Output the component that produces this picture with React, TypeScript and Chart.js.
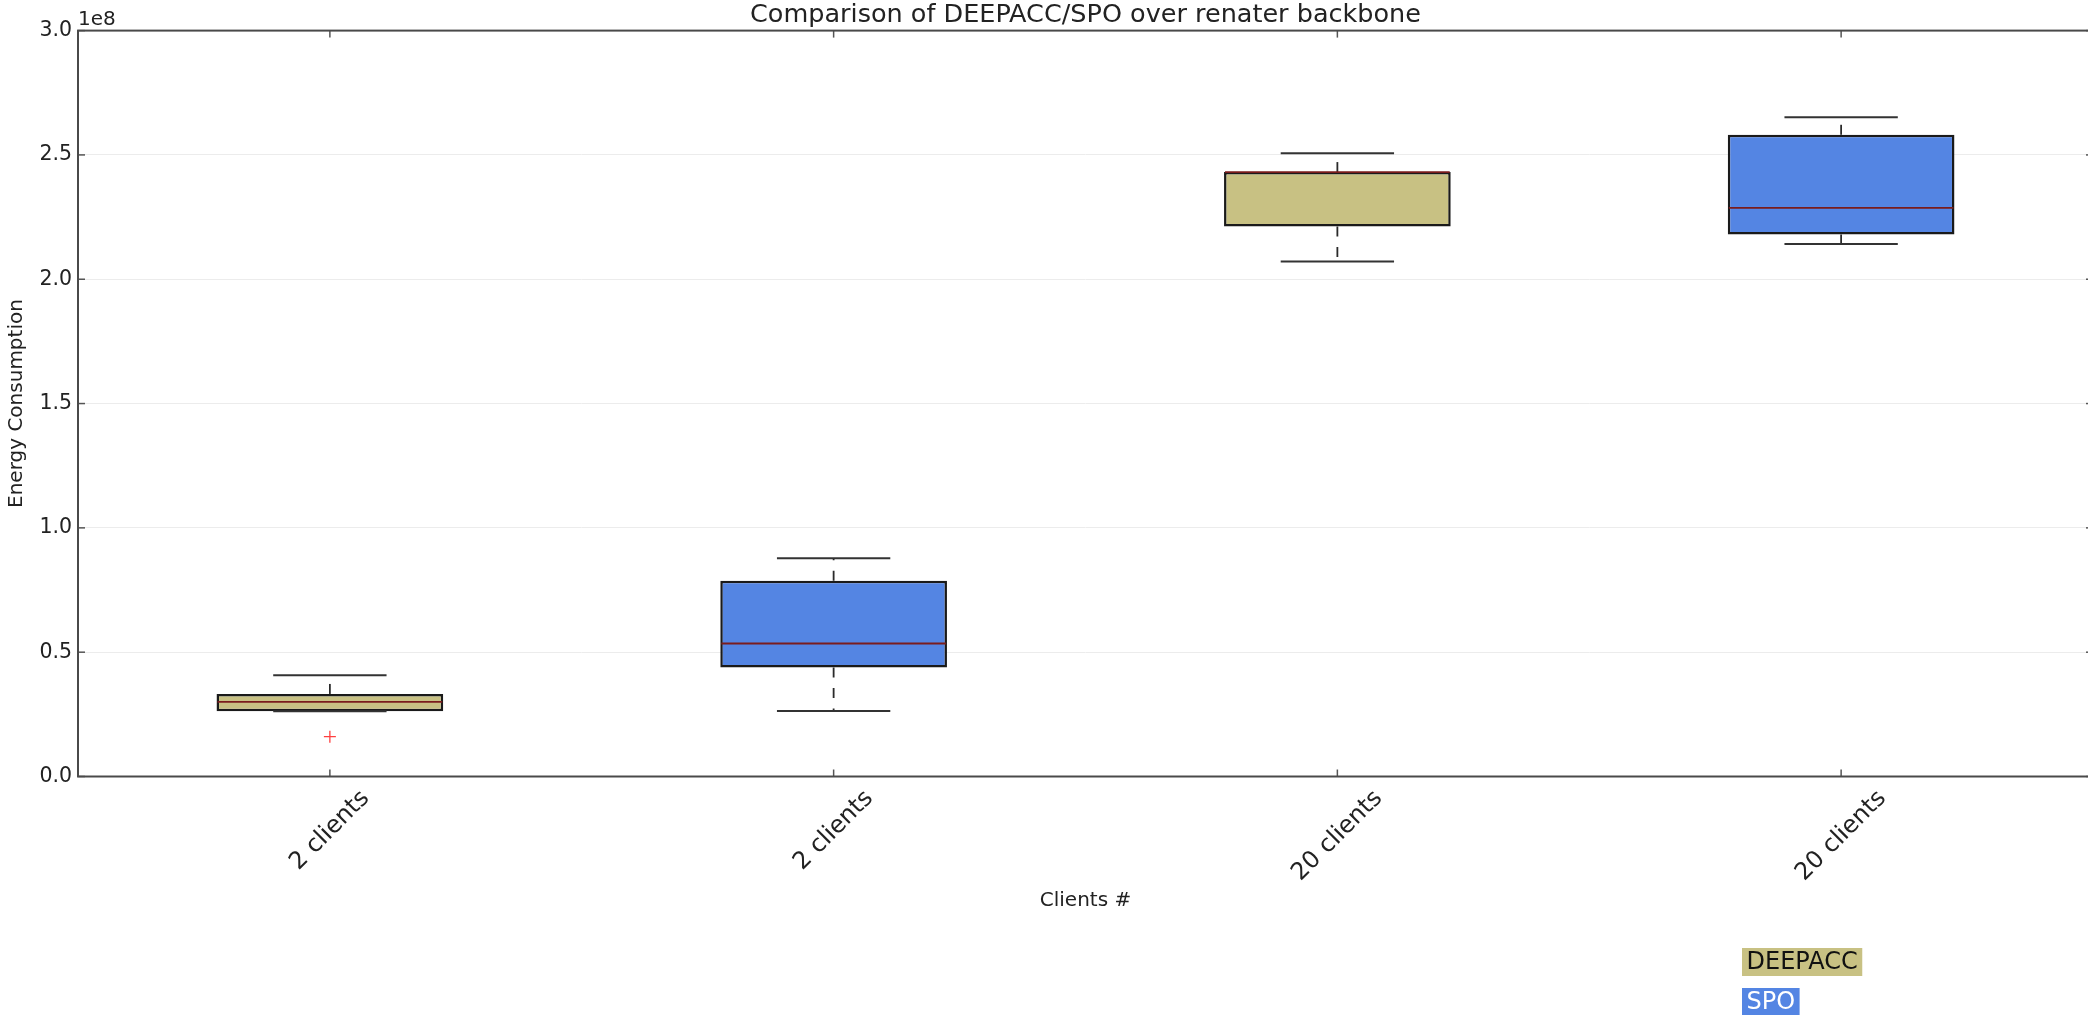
import React, { useEffect, useRef } from 'react';
import { Chart, registerables } from 'chart.js';

Chart.register(...registerables);

const CANVAS_W = 2110;
const CANVAS_H = 1015;
const PLOT_LEFT = 78;
const PLOT_RIGHT = 2093;
const PLOT_TOP = 30.5;
const PLOT_BOTTOM = 776.5;
const FONT = "'DejaVu Sans', 'Liberation Sans', sans-serif";
const INK = '#222222';

const chartTitle = 'Comparison of DEEPACC/SPO over renater backbone';
const xAxisTitle = 'Clients #';
const yAxisTitle = 'Energy Consumption';
const yOffsetText = '1e8';

const categories = ['2 clients', '2 clients', '20 clients', '20 clients'];
const yTickStep = 0.5e8;
const yMax = 3e8;

// DEEPACC boxes occupy category slots 0 and 2
const deepaccSlots = [0, 2];
const deepaccLowerWhisker = [0.262e8, 2.071e8];
const deepaccQ1 = [0.262e8, 2.212e8];
const deepaccMedian = [0.3e8, 2.431e8];
const deepaccQ3 = [0.332e8, 2.431e8];
const deepaccUpperWhisker = [0.407e8, 2.507e8];
const deepaccOutliers = [[0.16e8], []];

// SPO boxes occupy category slots 1 and 3
const spoSlots = [1, 3];
const spoLowerWhisker = [0.263e8, 2.142e8];
const spoQ1 = [0.438e8, 2.18e8];
const spoMedian = [0.535e8, 2.287e8];
const spoQ3 = [0.787e8, 2.581e8];
const spoUpperWhisker = [0.878e8, 2.651e8];
const spoOutliers = [[], []];

const series = [
  {
    name: 'DEEPACC',
    fill: '#c8c183',
    legendText: '#111111',
    slots: deepaccSlots,
    lower: deepaccLowerWhisker,
    q1: deepaccQ1,
    median: deepaccMedian,
    q3: deepaccQ3,
    upper: deepaccUpperWhisker,
    outliers: deepaccOutliers,
  },
  {
    name: 'SPO',
    fill: '#5485e3',
    legendText: '#ffffff',
    slots: spoSlots,
    lower: spoLowerWhisker,
    q1: spoQ1,
    median: spoMedian,
    q3: spoQ3,
    upper: spoUpperWhisker,
    outliers: spoOutliers,
  },
];

function line(ctx: CanvasRenderingContext2D, x1: number, y1: number, x2: number, y2: number) {
  ctx.beginPath();
  ctx.moveTo(x1, y1);
  ctx.lineTo(x2, y2);
  ctx.stroke();
}

// Whiskers, caps and medians on top of the floating-bar boxes
const whiskerPlugin = {
  id: 'whiskers',
  afterDatasetsDraw(chart: any) {
    const ctx: CanvasRenderingContext2D = chart.ctx;
    const y = chart.scales.y;
    series.forEach((s, si) => {
      const meta = chart.getDatasetMeta(si);
      s.slots.forEach((slot, k) => {
        const bar = meta.data[slot];
        if (!bar) return;
        const x = bar.x;
        const w = bar.width;
        const yLo = y.getPixelForValue(s.lower[k]);
        const yQ1 = y.getPixelForValue(s.q1[k]);
        const yMed = y.getPixelForValue(s.median[k]);
        const yQ3 = y.getPixelForValue(s.q3[k]);
        const yUp = y.getPixelForValue(s.upper[k]);
        ctx.save();
        ctx.lineCap = 'butt';
        ctx.strokeStyle = '#2a2a2a';
        ctx.lineWidth = 1.8;
        ctx.setLineDash([10, 10.5]);
        if (Math.abs(yUp - yQ3) > 0.5) line(ctx, x, yQ3, x, yUp);
        if (Math.abs(yLo - yQ1) > 0.5) line(ctx, x, yQ1, x, yLo);
        ctx.setLineDash([]);
        ctx.strokeStyle = '#333333';
        ctx.lineWidth = 2;
        line(ctx, x - w / 4, yUp, x + w / 4, yUp);
        line(ctx, x - w / 4, yLo, x + w / 4, yLo);
        ctx.strokeStyle = '#7a1c1c';
        ctx.lineWidth = 1.8;
        line(ctx, x - w / 2 + 1, yMed, x + w / 2 - 1, yMed);
        ctx.restore();
      });
    });
  },
};

// Spines, inward ticks, rotated category labels, offset text and legend
const framePlugin = {
  id: 'frame',
  afterDraw(chart: any) {
    const ctx: CanvasRenderingContext2D = chart.ctx;
    const { left, right, top, bottom } = chart.chartArea;
    const xs = chart.scales.x;
    const ys = chart.scales.y;
    ctx.save();

    // inward ticks
    ctx.strokeStyle = '#555555';
    ctx.lineWidth = 1.5;
    const tl = 7;
    ys.ticks.forEach((t: any) => {
      const py = ys.getPixelForValue(t.value);
      line(ctx, left, py, left + tl, py);
      line(ctx, right, py, right - tl, py);
    });
    categories.forEach((_, i) => {
      const px = xs.getPixelForTick(i);
      line(ctx, px, bottom, px, bottom - tl);
      line(ctx, px, top, px, top + tl);
    });

    // spines
    ctx.strokeStyle = '#4a4a4a';
    ctx.lineWidth = 2;
    ctx.strokeRect(left, top, right - left, bottom - top);

    // rotated category labels, centred under each tick
    ctx.fillStyle = INK;
    ctx.font = `24px ${FONT}`;
    ctx.textAlign = 'center';
    ctx.textBaseline = 'middle';
    const s45 = Math.SQRT1_2;
    categories.forEach((label, i) => {
      const px = xs.getPixelForTick(i);
      const w = ctx.measureText(label).width;
      const h = 26;
      const boxH = (w + h) * s45;
      const cy = bottom + 9 + boxH / 2;
      ctx.save();
      ctx.translate(px, cy);
      ctx.rotate(-Math.PI / 4);
      ctx.fillText(label, 0, 0);
      ctx.restore();
    });

    // scale factor shown above the y axis
    ctx.font = `20px ${FONT}`;
    ctx.textAlign = 'left';
    ctx.textBaseline = 'alphabetic';
    ctx.fillText(yOffsetText, left, 25);

    // legend: labels on coloured backgrounds
    ctx.font = `24px ${FONT}`;
    ctx.textBaseline = 'middle';
    const lx = 1742;
    const rowTops = [948, 988];
    const pad = 4.5;
    const rowH = 28;
    series.forEach((s, i) => {
      const tw = ctx.measureText(s.name).width;
      ctx.fillStyle = s.fill;
      ctx.fillRect(lx, rowTops[i], tw + pad * 2, rowH);
      ctx.fillStyle = s.legendText;
      ctx.fillText(s.name, lx + pad, rowTops[i] + rowH / 2 + 1);
    });

    ctx.restore();
  },
};

function slotData<T>(slots: number[], values: T[]): (T | null)[] {
  const out: (T | null)[] = categories.map(() => null);
  slots.forEach((slot, k) => {
    out[slot] = values[k];
  });
  return out;
}

export default function App() {
  const canvasRef = useRef<HTMLCanvasElement | null>(null);

  useEffect(() => {
    if (!canvasRef.current) return;
    Chart.defaults.font.family = FONT;

    const boxDatasets = series.map((s) => ({
      type: 'bar' as const,
      label: s.name,
      data: slotData(
        s.slots,
        s.slots.map((_, k) => [s.q1[k], s.q3[k]])
      ),
      backgroundColor: s.fill,
      borderColor: '#1a1a1a',
      borderWidth: 2.5,
      borderSkipped: false,
      grouped: false,
      barPercentage: 0.45,
      categoryPercentage: 1,
      order: 2,
    }));

    const outlierDatasets: any[] = [];
    series.forEach((s) => {
      const maxCount = Math.max(0, ...s.outliers.map((o) => o.length));
      for (let r = 0; r < maxCount; r++) {
        outlierDatasets.push({
          type: 'line' as const,
          label: `${s.name} outliers`,
          data: slotData(
            s.slots,
            s.outliers.map((o) => (o.length > r ? o[r] : null))
          ),
          showLine: false,
          pointStyle: 'cross',
          pointRadius: 6,
          pointBorderColor: '#ff4040',
          pointBackgroundColor: '#ff4040',
          pointBorderWidth: 1.3,
          order: 1,
        });
      }
    });

    const chart = new Chart(canvasRef.current, {
      data: {
        labels: categories,
        datasets: [...boxDatasets, ...outlierDatasets] as any,
      },
      options: {
        animation: false,
        responsive: false,
        maintainAspectRatio: false,
        devicePixelRatio: 1,
        events: [],
        layout: {
          padding: { left: 0, right: CANVAS_W - PLOT_RIGHT, top: 0, bottom: 0 },
        },
        plugins: {
          legend: { display: false },
          tooltip: { enabled: false },
          title: {
            display: true,
            text: chartTitle,
            color: INK,
            fullSize: false,
            font: { family: FONT, size: 25.5, weight: 'normal', lineHeight: 1.2 },
            padding: { top: 0, bottom: PLOT_TOP - 30.6 > 0 ? PLOT_TOP - 30.6 : 0 },
          },
        },
        scales: {
          x: {
            type: 'category',
            offset: true,
            grid: { display: false, drawTicks: false },
            border: { display: false },
            ticks: { display: false },
            title: {
              display: true,
              text: xAxisTitle,
              color: INK,
              font: { family: FONT, size: 20, lineHeight: 1.2 },
              padding: { top: 0, bottom: 102 },
            },
            afterFit: (scale: any) => {
              scale.height = CANVAS_H - PLOT_BOTTOM;
            },
          },
          y: {
            type: 'linear',
            min: 0,
            max: yMax,
            grid: {
              drawTicks: false,
              lineWidth: 1,
              color: (c: any) =>
                c.tick && (c.tick.value === 0 || c.tick.value === yMax)
                  ? 'rgba(0,0,0,0)'
                  : '#ececec',
            },
            border: { display: false },
            ticks: {
              stepSize: yTickStep,
              padding: 6,
              color: INK,
              font: { family: FONT, size: 20.5 },
              callback: (v: any) => (Number(v) / 1e8).toFixed(1),
            },
            title: {
              display: true,
              text: yAxisTitle,
              color: INK,
              font: { family: FONT, size: 20, lineHeight: 1.2 },
              padding: { top: 5, bottom: 0 },
            },
            afterFit: (scale: any) => {
              scale.width = PLOT_LEFT;
            },
          },
        },
      },
      plugins: [whiskerPlugin, framePlugin],
    } as any);

    return () => chart.destroy();
  }, []);

  return (
    <div
      style={{
        position: 'fixed',
        left: 0,
        top: 0,
        width: CANVAS_W,
        height: CANVAS_H,
        background: '#ffffff',
        overflow: 'hidden',
      }}
    >
      <canvas
        ref={canvasRef}
        width={CANVAS_W}
        height={CANVAS_H}
        style={{ display: 'block', width: CANVAS_W, height: CANVAS_H }}
      />
    </div>
  );
}
